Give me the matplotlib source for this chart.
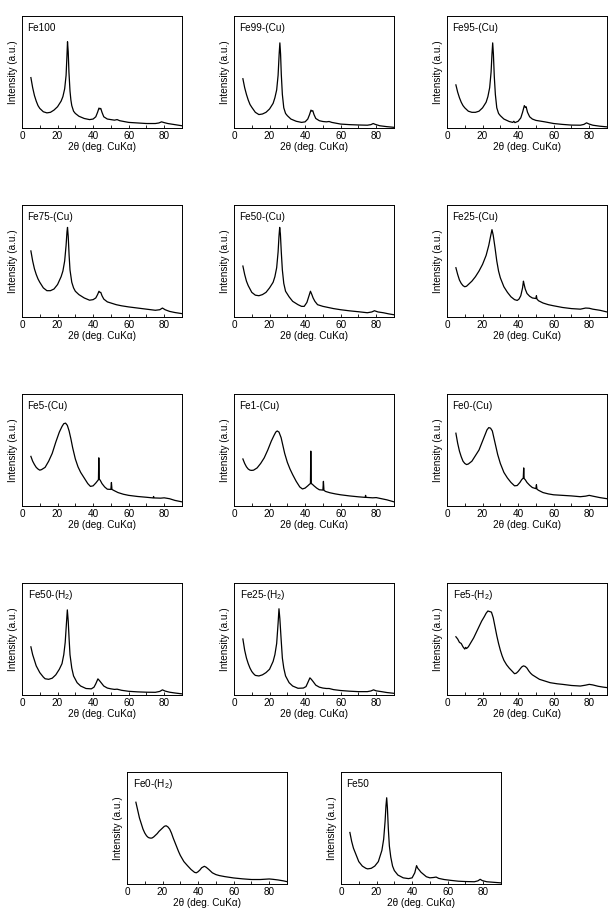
import matplotlib
matplotlib.use("Agg")
import matplotlib.pyplot as plt

plt.rcParams['font.family'] = ['Liberation Sans', 'DejaVu Sans']
plt.rcParams['mathtext.fontset'] = 'custom'
plt.rcParams['mathtext.rm'] = 'Liberation Sans'

# XRD patterns: 2theta (deg) and normalised intensity (a.u.)
fe100_x = [5, 6, 7, 8, 9, 10, 12, 14, 16, 18, 20, 22, 23, 24, 24.8, 25.3, 25.6, 26, 26.4, 27, 27.5, 28, 29, 30, 32, 35, 38, 40, 41.5, 42.5, 43.3, 43.8, 44.3, 45, 46, 48, 50, 52, 53.5, 55, 60, 65, 70, 75, 77, 78.5, 80, 82, 86, 90]
fe100_y = [0.45, 0.36, 0.29, 0.24, 0.20, 0.175, 0.145, 0.135, 0.14, 0.16, 0.19, 0.24, 0.28, 0.35, 0.47, 0.65, 0.77, 0.68, 0.50, 0.33, 0.25, 0.20, 0.15, 0.13, 0.105, 0.085, 0.075, 0.08, 0.10, 0.14, 0.178, 0.17, 0.175, 0.14, 0.10, 0.08, 0.075, 0.07, 0.075, 0.065, 0.05, 0.045, 0.04, 0.04, 0.045, 0.055, 0.048, 0.04, 0.03, 0.02]

fe99_x = [5, 6, 7, 8, 9, 10, 12, 14, 16, 18, 20, 22, 23, 24, 24.8, 25.4, 25.8, 26.2, 26.6, 27.2, 28, 29, 30, 32, 35, 38, 40, 41.5, 42.5, 43.3, 43.8, 44.3, 45, 46, 48, 50, 52, 53.5, 55, 60, 65, 70, 75, 77, 78.3, 79.5, 82, 86, 90]
fe99_y = [0.44, 0.36, 0.30, 0.25, 0.21, 0.185, 0.14, 0.12, 0.125, 0.14, 0.17, 0.22, 0.27, 0.34, 0.47, 0.66, 0.76, 0.66, 0.48, 0.30, 0.18, 0.13, 0.11, 0.08, 0.06, 0.05, 0.055, 0.08, 0.12, 0.16, 0.15, 0.155, 0.12, 0.085, 0.065, 0.058, 0.055, 0.058, 0.05, 0.035, 0.03, 0.027, 0.025, 0.03, 0.04, 0.032, 0.02, 0.012, 0.006]

fe95_x = [5, 6, 7, 8, 9, 10, 12, 14, 16, 18, 20, 22, 23, 24, 24.8, 25.3, 25.7, 26.1, 26.6, 27.2, 28, 29, 30, 32, 35, 37, 37.6, 38.2, 40, 41.5, 42.5, 43.5, 44, 44.5, 45.3, 46.5, 48, 50, 55, 60, 65, 70, 75, 77, 78.5, 80, 82, 86, 90]
fe95_y = [0.385, 0.32, 0.27, 0.23, 0.20, 0.18, 0.15, 0.14, 0.14, 0.15, 0.18, 0.23, 0.28, 0.36, 0.50, 0.66, 0.76, 0.66, 0.46, 0.30, 0.18, 0.13, 0.11, 0.08, 0.058, 0.05, 0.06, 0.048, 0.06, 0.09, 0.14, 0.20, 0.185, 0.19, 0.14, 0.10, 0.08, 0.068, 0.055, 0.04, 0.032, 0.026, 0.025, 0.032, 0.046, 0.035, 0.025, 0.016, 0.01]

fe75_x = [5, 6, 7, 8, 9, 10, 12, 14, 16, 18, 20, 22, 23, 24, 24.8, 25.3, 25.6, 26, 26.5, 27, 28, 29, 30, 32, 35, 38, 40, 41.5, 42.5, 43.3, 43.8, 44.3, 45, 46, 48, 50, 53, 56, 60, 65, 70, 75, 77.5, 79, 80.5, 83, 86, 90]
fe75_y = [0.59, 0.50, 0.43, 0.38, 0.34, 0.31, 0.26, 0.235, 0.235, 0.25, 0.29, 0.36, 0.41, 0.50, 0.64, 0.76, 0.80, 0.72, 0.55, 0.42, 0.31, 0.26, 0.23, 0.20, 0.17, 0.15, 0.155, 0.17, 0.20, 0.23, 0.22, 0.22, 0.19, 0.16, 0.135, 0.125, 0.11, 0.10, 0.09, 0.08, 0.07, 0.06, 0.065, 0.08, 0.065, 0.05, 0.04, 0.03]

fe50cu_x = [5, 6, 7, 8, 9, 10, 12, 14, 16, 18, 20, 22, 23, 24, 24.8, 25.3, 25.7, 26.1, 26.6, 27.2, 28, 29, 31, 33, 36, 38, 39.5, 41, 42, 43, 43.8, 44.5, 45.5, 47, 50, 53, 56, 60, 65, 70, 75, 77.5, 79, 81, 84, 87, 90]
fe50cu_y = [0.455, 0.38, 0.32, 0.28, 0.25, 0.22, 0.195, 0.19, 0.20, 0.22, 0.26, 0.31, 0.36, 0.44, 0.58, 0.72, 0.80, 0.74, 0.58, 0.42, 0.30, 0.23, 0.18, 0.14, 0.11, 0.095, 0.095, 0.13, 0.18, 0.23, 0.20, 0.17, 0.14, 0.11, 0.095, 0.085, 0.075, 0.065, 0.055, 0.047, 0.038, 0.045, 0.056, 0.045, 0.038, 0.028, 0.02]

fe25cu_x = [5, 6, 7, 8, 9, 10, 11, 12, 14, 16, 18, 20, 22, 23.5, 24.5, 25.3, 26, 27, 28, 29, 30, 32, 34, 36, 38, 39.5, 40.5, 41.5, 42.5, 43, 43.4, 44, 45, 46.5, 48, 50, 50.3, 50.6, 51.5, 54, 57, 60, 65, 70, 75, 78, 80, 82, 86, 90]
fe25cu_y = [0.44, 0.38, 0.33, 0.30, 0.28, 0.27, 0.275, 0.29, 0.32, 0.36, 0.41, 0.47, 0.55, 0.64, 0.72, 0.78, 0.73, 0.62, 0.50, 0.41, 0.35, 0.27, 0.22, 0.18, 0.155, 0.148, 0.16, 0.19, 0.26, 0.32, 0.29, 0.25, 0.21, 0.185, 0.17, 0.165, 0.19, 0.16, 0.145, 0.125, 0.11, 0.10, 0.085, 0.075, 0.07, 0.08, 0.078, 0.07, 0.06, 0.045]

fe5cu_x = [5, 6, 7, 8, 9, 10, 11, 12, 13, 15, 17, 19, 21, 22.5, 23.5, 24.5, 25.5, 26.5, 27.5, 28.5, 30, 31.5, 33, 35, 37, 38.5, 40, 41.5, 42.5, 43.0, 43.2, 43.45, 44, 45, 46.5, 48, 50, 50.3, 50.6, 51.5, 54, 57, 60, 65, 70, 73.8, 74, 74.3, 78, 80, 83, 86, 90]
fe5cu_y = [0.443, 0.40, 0.37, 0.345, 0.33, 0.32, 0.325, 0.335, 0.345, 0.40, 0.47, 0.57, 0.66, 0.71, 0.735, 0.74, 0.72, 0.67, 0.60, 0.52, 0.42, 0.35, 0.30, 0.25, 0.20, 0.175, 0.18, 0.205, 0.225, 0.235, 0.43, 0.24, 0.23, 0.20, 0.17, 0.15, 0.148, 0.21, 0.148, 0.14, 0.12, 0.105, 0.095, 0.085, 0.078, 0.072, 0.085, 0.072, 0.07, 0.073, 0.065, 0.05, 0.037]

fe1cu_x = [5, 6, 7, 8, 9, 10, 11, 12, 13, 15, 17, 19, 21, 22.5, 23.5, 24.3, 25.3, 26.5, 27.5, 28.5, 30, 31.5, 33, 35, 37, 38.5, 40, 41.5, 42.5, 43.0, 43.2, 43.45, 44, 45, 46.5, 48, 50, 50.3, 50.6, 51.5, 54, 57, 60, 65, 70, 73.8, 74, 74.3, 78, 80, 83, 86, 90]
fe1cu_y = [0.42, 0.38, 0.35, 0.33, 0.32, 0.318, 0.32, 0.33, 0.34, 0.38, 0.43, 0.50, 0.58, 0.63, 0.66, 0.67, 0.66, 0.61, 0.54, 0.47, 0.39, 0.33, 0.28, 0.22, 0.17, 0.152, 0.16, 0.18, 0.195, 0.20, 0.49, 0.20, 0.195, 0.18, 0.16, 0.145, 0.142, 0.22, 0.14, 0.13, 0.118, 0.108, 0.10, 0.09, 0.082, 0.077, 0.095, 0.077, 0.073, 0.075, 0.065, 0.055, 0.037]

fe0cu_x = [5, 6, 7, 8, 9, 10, 11, 12, 14, 16, 18, 20, 21.5, 22.5, 23.5, 24.5, 25.5, 26.5, 27.5, 28.5, 30, 32, 34, 36, 38, 39.5, 41, 42, 42.9, 43.15, 43.4, 44, 45, 46.5, 48, 50, 50.3, 50.6, 51.5, 54, 57, 60, 65, 70, 75, 78, 80, 82, 86, 90]
fe0cu_y = [0.65, 0.56, 0.49, 0.44, 0.40, 0.38, 0.37, 0.375, 0.40, 0.45, 0.50, 0.58, 0.64, 0.68, 0.70, 0.695, 0.67, 0.60, 0.53, 0.46, 0.38, 0.30, 0.25, 0.21, 0.18, 0.183, 0.21, 0.235, 0.25, 0.34, 0.245, 0.235, 0.21, 0.185, 0.165, 0.155, 0.19, 0.15, 0.14, 0.12, 0.108, 0.10, 0.095, 0.09, 0.083, 0.088, 0.095, 0.088, 0.075, 0.065]

fe50h_x = [5, 6, 7, 8, 9, 10, 11, 12, 13, 15, 17, 19, 21, 22.5, 23.5, 24.3, 25, 25.5, 26, 26.5, 27, 28, 29, 31, 33, 36, 39, 40.5, 41.5, 42.7, 43.5, 44.5, 46, 48, 50, 52, 53.5, 56, 60, 65, 70, 75, 77.5, 79, 80.5, 83, 86, 90]
fe50h_y = [0.43, 0.36, 0.31, 0.26, 0.23, 0.20, 0.18, 0.16, 0.145, 0.14, 0.15, 0.18, 0.23, 0.28, 0.36, 0.47, 0.64, 0.76, 0.66, 0.50, 0.36, 0.24, 0.17, 0.11, 0.08, 0.058, 0.055, 0.07, 0.10, 0.144, 0.13, 0.11, 0.08, 0.062, 0.055, 0.05, 0.052, 0.042, 0.033, 0.028, 0.025, 0.024, 0.032, 0.046, 0.035, 0.025, 0.018, 0.01]

fe25h_x = [5, 6, 7, 8, 9, 10, 11, 12, 14, 16, 18, 20, 22, 23, 24, 24.8, 25.3, 25.8, 26.5, 27.2, 28, 29, 31, 33, 36, 39, 40.5, 41.5, 42.7, 43.5, 44.5, 46, 48, 50, 52, 53.5, 56, 60, 65, 70, 75, 77, 78.5, 80, 83, 86, 90]
fe25h_y = [0.50, 0.40, 0.33, 0.28, 0.24, 0.21, 0.19, 0.175, 0.17, 0.18, 0.20, 0.23, 0.30, 0.36, 0.46, 0.64, 0.77, 0.68, 0.50, 0.33, 0.24, 0.17, 0.11, 0.08, 0.06, 0.062, 0.075, 0.11, 0.153, 0.14, 0.12, 0.088, 0.07, 0.062, 0.058, 0.058, 0.048, 0.04, 0.034, 0.03, 0.03, 0.036, 0.046, 0.037, 0.03, 0.022, 0.015]

fe5h_x = [5, 6, 7, 8, 9, 9.5, 10, 10.5, 11, 12, 13.5, 15, 16.5, 18, 19.5, 21, 22, 23, 24, 25, 26, 27, 28, 29, 30, 31, 32, 33.5, 35, 36.5, 38, 39, 40, 41, 42, 43, 44, 45, 46, 47, 48, 50, 52, 55, 58, 62, 65, 70, 75, 78, 80, 82, 85, 88, 90]
fe5h_y = [0.52, 0.50, 0.47, 0.46, 0.43, 0.42, 0.41, 0.425, 0.415, 0.43, 0.47, 0.51, 0.56, 0.61, 0.66, 0.70, 0.73, 0.75, 0.745, 0.74, 0.69, 0.61, 0.53, 0.46, 0.40, 0.35, 0.31, 0.27, 0.24, 0.215, 0.19, 0.195, 0.21, 0.23, 0.25, 0.26, 0.255, 0.24, 0.215, 0.195, 0.18, 0.16, 0.14, 0.125, 0.11, 0.10, 0.095, 0.085, 0.08, 0.088, 0.095, 0.09, 0.078, 0.07, 0.066]

fe0h_x = [5, 6, 7, 8, 9, 10, 11, 12, 13, 14, 15, 16, 17, 18, 19, 20, 21, 22, 23, 24, 25, 26, 27, 28, 29, 30, 32, 34, 36, 38, 39, 40, 41, 42, 43.5, 44.5, 46, 48, 50, 52, 55, 60, 65, 70, 75, 78, 80, 82, 85, 88, 90]
fe0h_y = [0.73, 0.66, 0.59, 0.54, 0.49, 0.455, 0.43, 0.415, 0.41, 0.41, 0.42, 0.435, 0.45, 0.47, 0.485, 0.50, 0.515, 0.52, 0.51, 0.49, 0.455, 0.41, 0.37, 0.33, 0.29, 0.255, 0.20, 0.164, 0.13, 0.104, 0.10, 0.11, 0.125, 0.145, 0.158, 0.15, 0.13, 0.10, 0.084, 0.075, 0.066, 0.054, 0.046, 0.04, 0.04, 0.043, 0.045, 0.042, 0.036, 0.028, 0.021]

fe50_x = [5, 6, 7, 8, 9, 10, 12, 14, 15, 17, 19, 21, 22, 23, 24, 24.8, 25.3, 25.7, 26.1, 26.6, 27.2, 28, 29, 30, 32, 35, 38, 40, 41.5, 42.5, 43.2, 44, 45, 46.5, 48, 50, 52, 53.5, 55, 58, 62, 66, 70, 75, 77, 78.3, 79.5, 82, 86, 90]
fe50_y = [0.46, 0.38, 0.32, 0.28, 0.24, 0.20, 0.16, 0.14, 0.135, 0.14, 0.16, 0.20, 0.25, 0.30, 0.40, 0.56, 0.70, 0.77, 0.68, 0.50, 0.34, 0.24, 0.16, 0.12, 0.08, 0.055, 0.048, 0.055, 0.10, 0.164, 0.14, 0.125, 0.105, 0.085, 0.065, 0.055, 0.058, 0.062, 0.05, 0.04, 0.032, 0.025, 0.022, 0.02, 0.028, 0.042, 0.03, 0.02, 0.015, 0.01]

labels = ['Fe100', 'Fe99-(Cu)', 'Fe95-(Cu)',
          'Fe75-(Cu)', 'Fe50-(Cu)', 'Fe25-(Cu)',
          'Fe5-(Cu)', 'Fe1-(Cu)', 'Fe0-(Cu)',
          r'Fe50-(H$\mathregular{_2}$)', r'Fe25-(H$\mathregular{_2}$)', r'Fe5-(H$\mathregular{_2}$)',
          r'Fe0-(H$\mathregular{_2}$)', 'Fe50']
xs = [fe100_x, fe99_x, fe95_x, fe75_x, fe50cu_x, fe25cu_x, fe5cu_x, fe1cu_x, fe0cu_x,
      fe50h_x, fe25h_x, fe5h_x, fe0h_x, fe50_x]
ys = [fe100_y, fe99_y, fe95_y, fe75_y, fe50cu_y, fe25cu_y, fe5cu_y, fe1cu_y, fe0cu_y,
      fe50h_y, fe25h_y, fe5h_y, fe0h_y, fe50_y]

# panel positions in pixels (left, top)
W, H = 612, 923
pw, ph = 160, 112
col_left = [22, 234, 447]
row_top = [16, 205, 394, 583, 772]
pos = [(col_left[c], row_top[r]) for r in range(4) for c in range(3)]
pos += [(127, row_top[4]), (341, row_top[4])]

fig = plt.figure(figsize=(W / 100, H / 100), dpi=100)

for lab, x, y, (l, t) in zip(labels, xs, ys, pos):
    ax = fig.add_axes([l / W, 1 - (t + ph) / H, pw / W, ph / H])
    ax.plot(x, y, color='black', lw=0.9)
    ax.set_xlim(0, 90)
    ax.set_ylim(0, 1)
    ax.set_yticks([])
    ax.set_xticks([0, 20, 40, 60, 80])
    ax.set_xticks([10, 30, 50, 70], minor=True)
    ax.tick_params(axis='x', which='both', direction='in', length=2.5, width=0.6,
                   labelsize=7.2, pad=2)
    for s in ax.spines.values():
        s.set_linewidth(0.7)
    ax.set_xlabel('2θ (deg. CuKα)', fontsize=7.2, labelpad=1)
    ax.set_ylabel('Intensity (a.u.)', fontsize=7.2, labelpad=3)
    ax.text(0.035, 0.89, lab, transform=ax.transAxes, fontsize=7.2, va='center', ha='left')

fig.savefig('out.png', dpi=100)
